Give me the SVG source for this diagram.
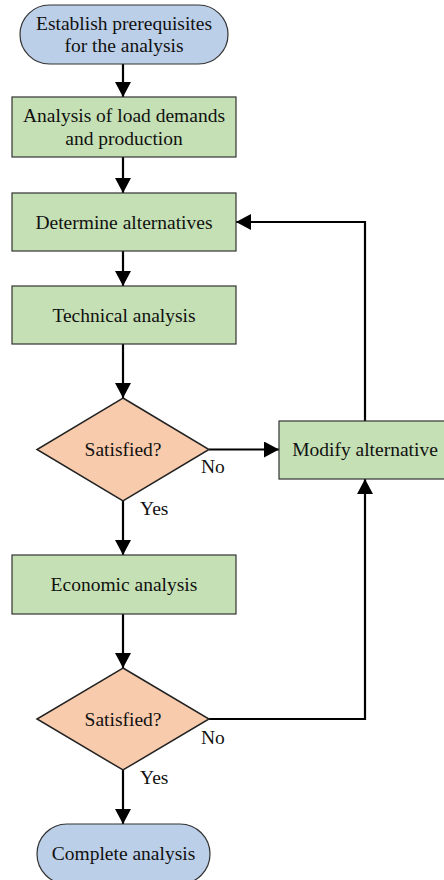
<svg xmlns="http://www.w3.org/2000/svg" width="444" height="880" viewBox="0 0 444 880" font-family="Liberation Serif, DejaVu Serif, serif">
<style>
.t{fill:#bccfe8;stroke:#333;stroke-width:1.2}
.p{fill:#c5e0b4;stroke:#333;stroke-width:1.2}
.d{fill:#f8cbad;stroke:#222;stroke-width:1.5}
text{font-family:'Liberation Serif','DejaVu Serif',serif;font-size:19.5px;fill:#111;text-anchor:middle}
.l{text-anchor:start}
.c{fill:none;stroke:#000;stroke-width:2.2}
</style>
<defs>
<marker id="a" markerUnits="userSpaceOnUse" markerWidth="16" markerHeight="16" refX="15" refY="8" orient="auto">
<path d="M0,0 L15,8 L0,16 Z" fill="#000"/>
</marker>
</defs>
<rect width="444" height="880" fill="#fff"/>
<g id="connectors">
<path class="c" d="M123,64 V97" marker-end="url(#a)"/>
<path class="c" d="M123,157 V193" marker-end="url(#a)"/>
<path class="c" d="M123,251 V286" marker-end="url(#a)"/>
<path class="c" d="M123,344 V398" marker-end="url(#a)"/>
<path class="c" d="M209,449.5 H279" marker-end="url(#a)"/>
<path class="c" d="M365,421 V222 H236" marker-end="url(#a)"/>
<path class="c" d="M123,501 V555" marker-end="url(#a)"/>
<path class="c" d="M123,614 V668" marker-end="url(#a)"/>
<path class="c" d="M209,719 H365 V479" marker-end="url(#a)"/>
<path class="c" d="M123,770 V824" marker-end="url(#a)"/>
<text class="l" x="201" y="473">No</text>
<text class="l" x="140" y="515">Yes</text>
<text class="l" x="201" y="744">No</text>
<text class="l" x="140" y="784">Yes</text>
</g>
<g id="start">
<rect class="t" x="20" y="5" width="208" height="59" rx="29.5"/>
<text x="124" y="29.5">Establish prerequisites</text>
<text x="124" y="52">for the analysis</text>
</g>
<g id="load">
<rect class="p" x="12" y="97" width="224" height="60"/>
<text x="124" y="122">Analysis of load demands</text>
<text x="124" y="145">and production</text>
</g>
<g id="determine">
<rect class="p" x="12" y="193" width="224" height="58"/>
<text x="124" y="228.5">Determine alternatives</text>
</g>
<g id="technical">
<rect class="p" x="12" y="286" width="224" height="58"/>
<text x="124" y="321.5">Technical analysis</text>
</g>
<g id="sat1">
<polygon class="d" points="123,398 209,449.5 123,501 37,449.5"/>
<text x="123" y="456">Satisfied?</text>
</g>
<g id="modify">
<rect class="p" x="279" y="421" width="172" height="58"/>
<text x="365" y="456">Modify alternative</text>
</g>
<g id="economic">
<rect class="p" x="12" y="555" width="224" height="59"/>
<text x="124" y="591">Economic analysis</text>
</g>
<g id="sat2">
<polygon class="d" points="123,668 209,719 123,770 37,719"/>
<text x="123" y="725.5">Satisfied?</text>
</g>
<g id="end">
<rect class="t" x="37" y="824" width="173" height="60" rx="30"/>
<text x="123.5" y="859.5">Complete analysis</text>
</g>
</svg>
